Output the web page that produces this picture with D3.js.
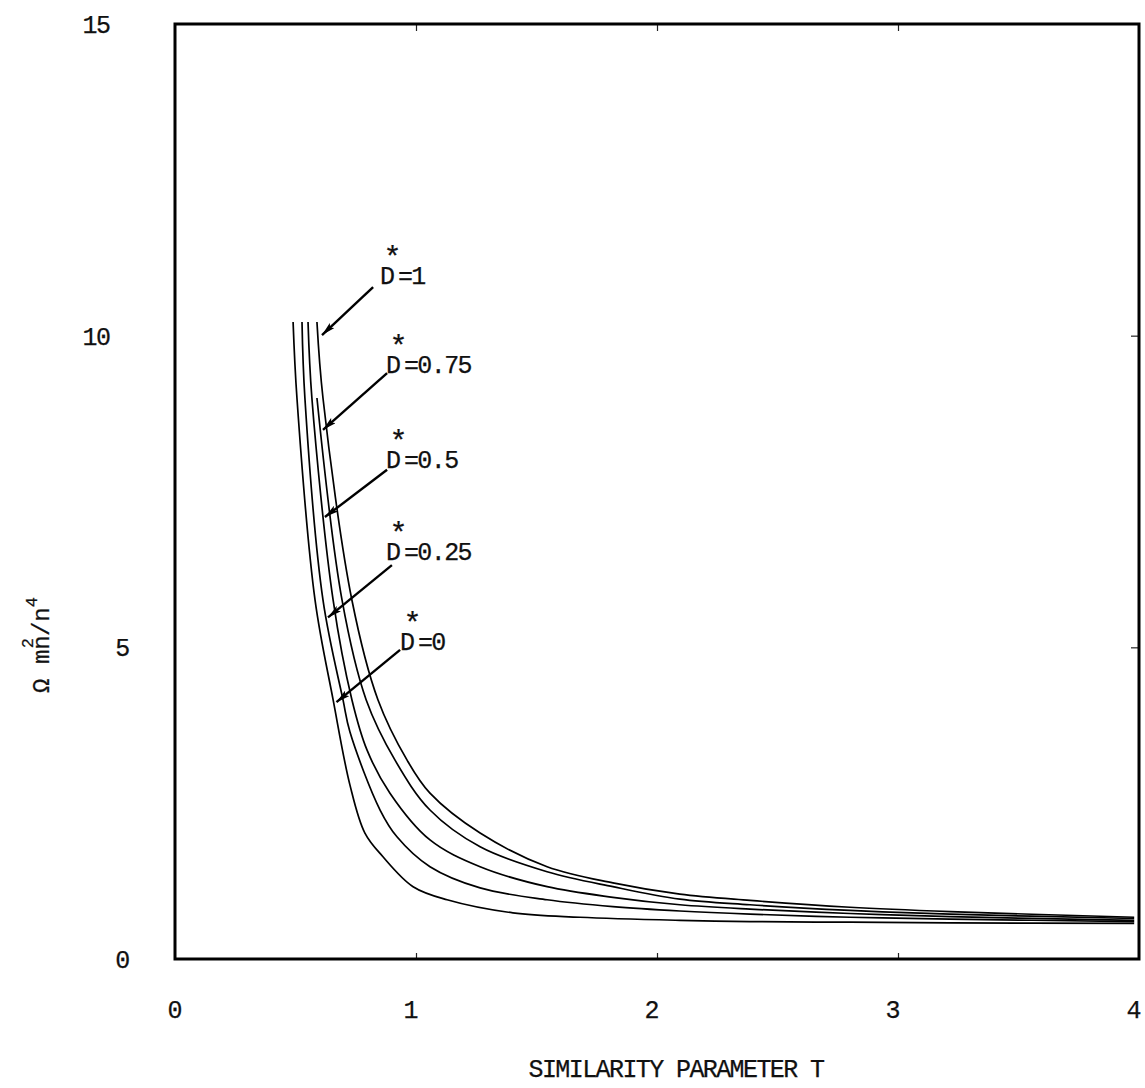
<!DOCTYPE html>
<html>
<head>
<meta charset="utf-8">
<script src="https://cdn.jsdelivr.net/npm/d3@7"></script>
<style>
  html, body { margin: 0; padding: 0; background: #fff; }
  svg { display: block; }
  text { font-family: "Liberation Mono", "Courier New", monospace; fill: #111; stroke: #111; stroke-width: 0.25px; }
</style>
</head>
<body>
<svg id="chart" width="1145" height="1088"></svg>
<script>
// Similarity parameter T (x) against Omega mn^2/n^4 (y), one curve per D*
const xTicks = [0, 1, 2, 3, 4];
const yTicks = [0, 5, 10, 15];

const d0x   = [0.490, 0.506, 0.581, 0.656, 0.726, 0.788, 0.863, 0.988, 1.129, 1.402, 1.680, 2.095, 2.386, 2.801, 3.216, 3.98];
const d0y   = [10.22, 9.00, 5.76, 4.16, 2.79, 2.02, 1.64, 1.16, 0.95, 0.74, 0.67, 0.62, 0.60, 0.59, 0.58, 0.57];

const d025x = [0.527, 0.539, 0.614, 0.697, 0.726, 0.851, 0.921, 1.058, 1.266, 1.544, 1.817, 2.095, 2.386, 2.801, 3.216, 3.98];
const d025y = [10.22, 9.00, 5.76, 4.16, 3.64, 2.39, 1.96, 1.48, 1.14, 0.95, 0.84, 0.77, 0.72, 0.67, 0.64, 0.60];

const d05x  = [0.552, 0.568, 0.656, 0.734, 0.797, 0.892, 1.058, 1.266, 1.544, 1.817, 2.095, 2.386, 2.801, 3.216, 3.98];
const d05y  = [10.22, 9.00, 5.76, 4.16, 3.35, 2.66, 1.91, 1.48, 1.16, 0.99, 0.87, 0.80, 0.73, 0.68, 0.62];

const d075x = [0.589, 0.693, 0.793, 0.913, 1.058, 1.266, 1.544, 1.817, 2.095, 2.386, 2.801, 3.216, 3.98];
const d075y = [9.00, 5.76, 4.16, 3.19, 2.39, 1.80, 1.40, 1.16, 0.96, 0.87, 0.78, 0.72, 0.65];

const d1x   = [0.589, 0.614, 0.734, 0.842, 0.963, 1.058, 1.266, 1.544, 1.817, 2.095, 2.386, 2.801, 3.216, 3.98];
const d1y   = [10.22, 9.00, 5.76, 4.16, 3.19, 2.66, 2.02, 1.48, 1.22, 1.04, 0.94, 0.83, 0.76, 0.67];

const curveNames = ["1", "0.75", "0.5", "0.25", "0"];
// annotation arrows (tail -> tip on the curve) and label anchors, in data units
const arrowTails = [[0.822, 10.78], [0.880, 9.40], [0.880, 7.85], [0.900, 6.32], [0.934, 4.96]];
const arrowTips  = [[0.610, 10.01], [0.614, 8.49], [0.622, 7.09], [0.635, 5.48], [0.670, 4.12]];
const labelPos   = [[0.851, 10.83], [0.876, 9.40], [0.876, 7.88], [0.876, 6.40], [0.934, 4.96]];

const svg = d3.select("#chart");
const x = d3.scaleLinear().domain([0, 4]).range([175, 1139]);
const y = d3.scaleLinear().domain([0, 15]).range([959, 24]);

svg.append("rect").attr("width", 1145).attr("height", 1088).attr("fill", "#fff");

// inward tick marks on bottom, top and right edges
svg.append("g").attr("transform", `translate(0,${y(0)})`)
  .call(d3.axisBottom(x).tickValues([1, 2, 3]).tickSize(-6).tickFormat(""))
  .call(g => g.select(".domain").remove());
svg.append("g").attr("transform", `translate(0,${y(15)})`)
  .call(d3.axisTop(x).tickValues([1, 2, 3]).tickSize(-7).tickFormat(""))
  .call(g => g.select(".domain").remove());
svg.append("g").attr("transform", `translate(${x(4)},0)`)
  .call(d3.axisRight(y).tickValues([5, 10]).tickSize(-8).tickFormat(""))
  .call(g => g.select(".domain").remove());
svg.selectAll(".tick line").attr("stroke", "#222").attr("stroke-width", 1.2);

// frame
svg.append("rect")
  .attr("x", x(0)).attr("y", y(15))
  .attr("width", x(4) - x(0)).attr("height", y(0) - y(15))
  .attr("fill", "none").attr("stroke", "#000").attr("stroke-width", 3);

const fs = 25, ls = "-1.6px";

// tick labels
svg.append("g").selectAll("text").data(xTicks).join("text")
  .attr("x", d => x(d)).attr("dx", d => d === 0 ? 0 : -5).attr("y", 1018)
  .attr("text-anchor", "middle").attr("font-size", fs)
  .text(d => d);
svg.append("g").selectAll("text").data(yTicks).join("text")
  .attr("x", d => d >= 10 ? 96 : 122).attr("y", d => y(d))
  .attr("dy", "0.36em")
  .attr("text-anchor", "middle").attr("font-size", fs)
  .attr("letter-spacing", ls)
  .text(d => d);

// axis titles
svg.append("text")
  .attr("x", 676).attr("y", 1077)
  .attr("text-anchor", "middle").attr("font-size", fs)
  .attr("letter-spacing", ls)
  .text("SIMILARITY PARAMETER T");

const yt = svg.append("text")
  .attr("transform", "translate(49,645) rotate(-90)")
  .attr("text-anchor", "middle").attr("font-size", 24);
yt.append("tspan").text("Ω mn");
yt.append("tspan").attr("dx", "-13").attr("dy", "-16").attr("font-size", 17).text("2");
yt.append("tspan").attr("dx", "2").attr("dy", "16").text("/n");
yt.append("tspan").attr("dy", "-12").attr("font-size", 17).text("4");

// curves
const series = [
  [d1x, d1y], [d075x, d075y], [d05x, d05y], [d025x, d025y], [d0x, d0y]
].map(([xs, ys]) => xs.map((v, i) => [v, ys[i]]));

const line = d3.line().x(d => x(d[0])).y(d => y(d[1])).curve(d3.curveCatmullRom.alpha(0.5));
svg.append("g").selectAll("path").data(series).join("path")
  .attr("d", line)
  .attr("fill", "none").attr("stroke", "#000").attr("stroke-width", 1.7);

// arrows + labels
svg.append("defs").append("marker")
  .attr("id", "head").attr("viewBox", "0 0 14 7")
  .attr("refX", 14).attr("refY", 3.5)
  .attr("markerWidth", 14).attr("markerHeight", 7)
  .attr("markerUnits", "userSpaceOnUse")
  .attr("orient", "auto")
  .append("path").attr("d", "M0,0 L14,3.5 L0,7 L3,3.5 Z").attr("fill", "#000");

const ann = svg.append("g");
curveNames.forEach((name, i) => {
  ann.append("line")
    .attr("x1", x(arrowTails[i][0])).attr("y1", y(arrowTails[i][1]))
    .attr("x2", x(arrowTips[i][0])).attr("y2", y(arrowTips[i][1]))
    .attr("stroke", "#000").attr("stroke-width", 2.4)
    .attr("marker-end", "url(#head)");
  const t = ann.append("text")
    .attr("x", x(labelPos[i][0])).attr("y", y(labelPos[i][1]))
    .attr("font-size", fs).attr("letter-spacing", ls);
  t.append("tspan").text("D");
  t.append("tspan").attr("dx", "-10").attr("dy", "-17").attr("font-size", 30).text("*");
  t.append("tspan").attr("dx", "-2").attr("dy", "17").text("=" + name);
});
</script>
</body>
</html>
